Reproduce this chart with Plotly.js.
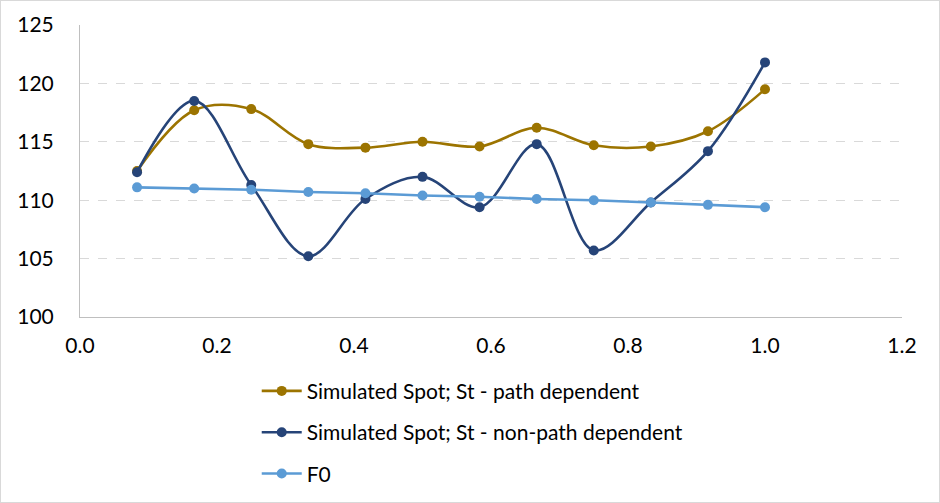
<!DOCTYPE html>
<html>
<head>
<meta charset="utf-8">
<script src="https://cdn.plot.ly/plotly-3.0.1.min.js"></script>
<style>
html,body{margin:0;padding:0;background:#fff;}
#chart{width:938px;height:501px;border:1px solid #d9d9d9;}
</style>
</head>
<body>
<div id="chart"></div>
<script>
var timeYears = [0.0833, 0.1667, 0.25, 0.3333, 0.4167, 0.5, 0.5833, 0.6667, 0.75, 0.8333, 0.9167, 1.0];
var spotPathDependent = [112.5, 117.7, 117.8, 114.8, 114.5, 115.0, 114.6, 116.2, 114.7, 114.6, 115.9, 119.5];
var spotNonPathDependent = [112.4, 118.5, 111.3, 105.2, 110.1, 112.0, 109.4, 114.8, 105.7, 109.8, 114.2, 121.8];
var forwardF0 = [111.1, 111.0, 110.9, 110.7, 110.6, 110.4, 110.3, 110.1, 110.0, 109.8, 109.6, 109.4];
var seriesNames = ["Simulated Spot; St - path dependent", "Simulated Spot; St - non-path dependent", "F0"];

var fontFam = "Lato, 'Noto Sans', sans-serif";
var traces = [
  {x: timeYears, y: spotPathDependent, name: seriesNames[0], mode: "lines+markers",
   line: {color: "#9c7400", width: 2.6, shape: "spline", smoothing: 1}, marker: {color: "#9c7400", size: 10},
   legendgroup: "a"},
  {x: timeYears, y: spotNonPathDependent, name: seriesNames[1], mode: "lines+markers",
   line: {color: "#264478", width: 2.6, shape: "spline", smoothing: 1}, marker: {color: "#264478", size: 10},
   legendgroup: "b"},
  {x: timeYears, y: forwardF0, name: seriesNames[2], mode: "lines+markers",
   line: {color: "#5b9bd5", width: 2.6}, marker: {color: "#5b9bd5", size: 10},
   legendgroup: "c"}
];
var layout = {
  width: 938, height: 501,
  margin: {l: 79, r: 37, t: 24, b: 185},
  paper_bgcolor: "#fff", plot_bgcolor: "#fff",
  font: {family: fontFam, size: 21, color: "#000"},
  showlegend: true,
  hovermode: false,
  xaxis: {range: [0, 1.2], dtick: 0.2, tick0: 0, tickformat: ".1f", showgrid: false, zeroline: false,
          showline: true, linecolor: "#bfbfbf", linewidth: 1, ticks: "", ticklabelstandoff: 10,
          automargin: false, tickfont: {size: 21}},
  yaxis: {range: [100, 125], dtick: 5, tick0: 100, showgrid: true, gridcolor: "#d9d9d9", griddash: "dash",
          gridwidth: 1, zeroline: false, showline: true, linecolor: "#bfbfbf", linewidth: 1, ticks: "",
          ticklabelstandoff: 21, automargin: false, tickfont: {size: 21}},
  legend: {x: 0.215, y: 0.262, xref: "paper", yref: "container", xanchor: "left", yanchor: "top", orientation: "v",
           traceorder: "grouped", tracegroupgap: 11, font: {size: 21}, itemwidth: 40, bgcolor: "rgba(0,0,0,0)"}
};
Plotly.newPlot("chart", traces, layout, {displayModeBar: false, staticPlot: true});
</script>
</body>
</html>
